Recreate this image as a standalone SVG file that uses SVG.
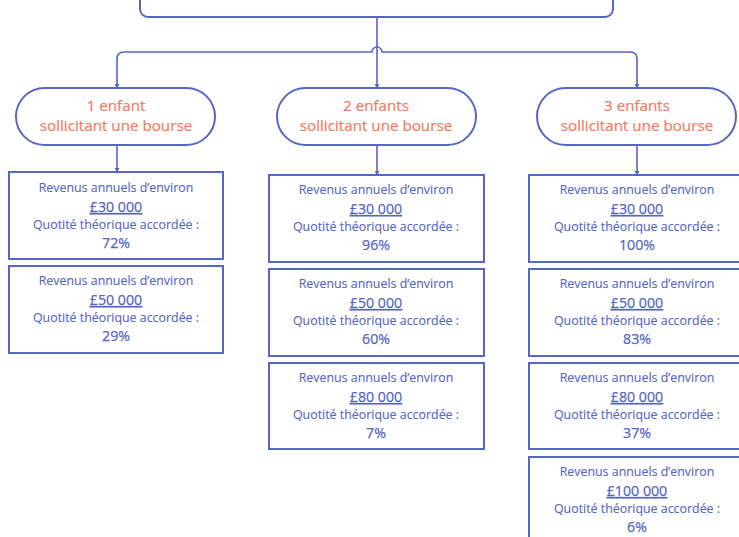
<svg xmlns="http://www.w3.org/2000/svg" width="739" height="537" viewBox="0 0 739 537">
<defs>
<marker id="ah" viewBox="0 0 6 6" refX="5" refY="3" markerWidth="5" markerHeight="5" orient="auto" markerUnits="userSpaceOnUse">
<path d="M0,0 L6,3 L0,6 z" fill="#5566c4"/>
</marker>
<style>
.bx{fill:#fff;stroke:#5566c4;stroke-width:2}
.pill{fill:#fff;stroke:#5566c4;stroke-width:2}
.cn{fill:none;stroke:#5566c4;stroke-width:1.6}
.pt{font-family:"Open Sans","Liberation Sans",sans-serif;font-size:15.2px;fill:#f27a63;stroke:#f27a63;stroke-width:0.2;text-anchor:middle}
.t1{font-family:"Open Sans","Liberation Sans",sans-serif;font-size:12.4px;fill:#5565c4;stroke:#5565c4;stroke-width:0.12;text-anchor:middle}
.t2{font-family:"Open Sans","Liberation Sans",sans-serif;font-size:14.2px;fill:#5565c4;stroke:#5565c4;stroke-width:0.25;text-anchor:middle}
.u{text-decoration:underline}
</style>
</defs>
<rect width="739" height="537" fill="#fff"/>
<g id="top"><rect class="bx" x="140" y="-20" width="473" height="37" rx="8" stroke-width="2.5"/></g>
<g id="connectors">
<path class="cn" d="M377,17 V52"/>
<path class="cn" d="M124,52 H372 A5,5 0 0 1 382,52 H630"/>
<path class="cn" d="M124,52 Q117,52 117,59 V88" marker-end="url(#ah)"/>
<path class="cn" d="M630,52 Q637,52 637,59 V88" marker-end="url(#ah)"/>
<path class="cn" d="M377,52 V88" marker-end="url(#ah)"/>
<path class="cn" d="M117,145 V172" marker-end="url(#ah)"/>
<path class="cn" d="M377,145 V175" marker-end="url(#ah)"/>
<path class="cn" d="M637,145 V175" marker-end="url(#ah)"/>
</g>
<g id="p1"><rect class="pill" x="16" y="88" width="199" height="57" rx="28.5"/><text class="pt" x="116" y="111">1 enfant</text><text class="pt" x="116" y="131">sollicitant une bourse</text></g>
<g id="p2"><rect class="pill" x="277" y="88" width="199" height="57" rx="28.5"/><text class="pt" x="376" y="111">2 enfants</text><text class="pt" x="376" y="131">sollicitant une bourse</text></g>
<g id="p3"><rect class="pill" x="537" y="88" width="199" height="57" rx="28.5"/><text class="pt" x="637" y="111">3 enfants</text><text class="pt" x="637" y="131">sollicitant une bourse</text></g>

<g id="b11"><rect class="bx" x="9" y="172" width="214" height="87"/><text class="t1" x="116" y="192">Revenus annuels d’environ</text><text class="t2 u" x="116" y="212">£30 000</text><text class="t1" x="116" y="229">Quotité théorique accordée :</text><text class="t2" x="116" y="248">72%</text></g>
<g id="b12"><rect class="bx" x="9" y="266" width="214" height="87"/><text class="t1" x="116" y="285">Revenus annuels d’environ</text><text class="t2 u" x="116" y="305">£50 000</text><text class="t1" x="116" y="322">Quotité théorique accordée :</text><text class="t2" x="116" y="341">29%</text></g>

<g id="b21"><rect class="bx" x="269" y="175" width="215" height="87"/><text class="t1" x="376" y="194">Revenus annuels d’environ</text><text class="t2 u" x="376" y="214">£30 000</text><text class="t1" x="376" y="231">Quotité théorique accordée :</text><text class="t2" x="376" y="250">96%</text></g>
<g id="b22"><rect class="bx" x="269" y="269" width="215" height="87"/><text class="t1" x="376" y="288">Revenus annuels d’environ</text><text class="t2 u" x="376" y="308">£50 000</text><text class="t1" x="376" y="325">Quotité théorique accordée :</text><text class="t2" x="376" y="344">60%</text></g>
<g id="b23"><rect class="bx" x="269" y="363" width="215" height="86"/><text class="t1" x="376" y="382">Revenus annuels d’environ</text><text class="t2 u" x="376" y="402">£80 000</text><text class="t1" x="376" y="419">Quotité théorique accordée :</text><text class="t2" x="376" y="438">7%</text></g>

<g id="b31"><rect class="bx" x="529" y="175" width="215" height="87"/><text class="t1" x="637" y="194">Revenus annuels d’environ</text><text class="t2 u" x="637" y="214">£30 000</text><text class="t1" x="637" y="231">Quotité théorique accordée :</text><text class="t2" x="637" y="250">100%</text></g>
<g id="b32"><rect class="bx" x="529" y="269" width="215" height="87"/><text class="t1" x="637" y="288">Revenus annuels d’environ</text><text class="t2 u" x="637" y="308">£50 000</text><text class="t1" x="637" y="325">Quotité théorique accordée :</text><text class="t2" x="637" y="344">83%</text></g>
<g id="b33"><rect class="bx" x="529" y="363" width="215" height="86"/><text class="t1" x="637" y="382">Revenus annuels d’environ</text><text class="t2 u" x="637" y="402">£80 000</text><text class="t1" x="637" y="419">Quotité théorique accordée :</text><text class="t2" x="637" y="438">37%</text></g>
<g id="b34"><rect class="bx" x="529" y="457" width="215" height="90"/><text class="t1" x="637" y="476">Revenus annuels d’environ</text><text class="t2 u" x="637" y="496">£100 000</text><text class="t1" x="637" y="513">Quotité théorique accordée :</text><text class="t2" x="637" y="532">6%</text></g>
</svg>
